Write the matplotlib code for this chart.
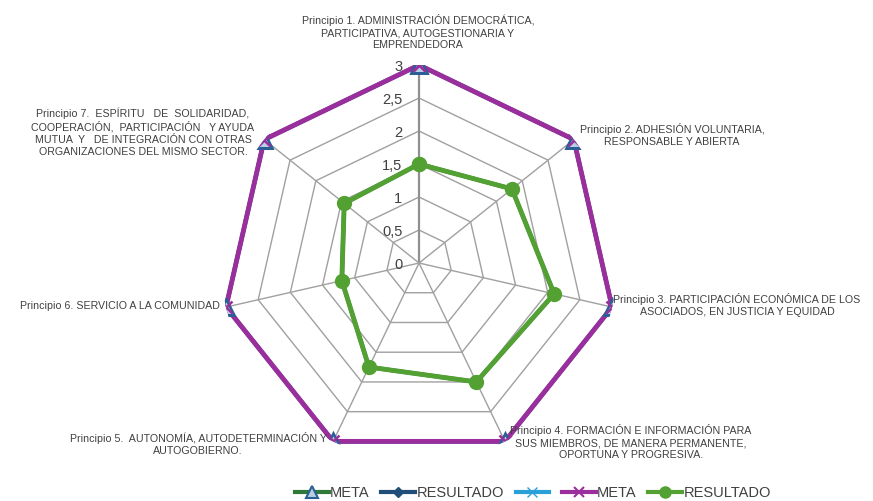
import numpy as np
import matplotlib.pyplot as plt
from matplotlib.lines import Line2D

# Principios cooperativos y valores evaluados
principios = [
    'Principio 1. ADMINISTRACIÓN DEMOCRÁTICA,\nPARTICIPATIVA, AUTOGESTIONARIA Y\nEMPRENDEDORA',
    'Principio 2. ADHESIÓN VOLUNTARIA,\nRESPONSABLE Y ABIERTA',
    'Principio 3. PARTICIPACIÓN ECONÓMICA DE LOS\nASOCIADOS, EN JUSTICIA Y EQUIDAD',
    'Principio 4. FORMACIÓN E INFORMACIÓN PARA\nSUS MIEMBROS, DE MANERA PERMANENTE,\nOPORTUNA Y PROGRESIVA.',
    'Principio 5.  AUTONOMÍA, AUTODETERMINACIÓN Y\nAUTOGOBIERNO.',
    'Principio 6. SERVICIO A LA COMUNIDAD',
    'Principio 7.  ESPÍRITU   DE  SOLIDARIDAD,\nCOOPERACIÓN,  PARTICIPACIÓN   Y AYUDA\nMUTUA  Y   DE INTEGRACIÓN CON OTRAS\nORGANIZACIONES DEL MISMO SECTOR.',
]
meta = [3, 3, 3, 3, 3, 3, 3]
resultado = [1.5, 1.8, 2.1, 2.0, 1.75, 1.2, 1.45]
niveles = [0, 0.5, 1, 1.5, 2, 2.5, 3]
etiquetas_niveles = ['0', '0,5', '1', '1,5', '2', '2,5', '3']

FONT = ['Liberation Sans Narrow', 'Liberation Sans', 'DejaVu Sans']
TXT = '#404040'
GRID = '#a0a0a0'


def cerrar(vals):
    return list(vals) + [vals[0]]


n = len(principios)
ang = np.linspace(0, 2 * np.pi, n, endpoint=False)
ang_c = cerrar(ang)

fig = plt.figure(figsize=(8.73, 5.01), dpi=100)
ax = fig.add_axes([0.2532, 0.0798, 0.4536, 0.7904], polar=True)
ax.set_theta_zero_location('N')
ax.set_theta_direction(-1)
ax.set_ylim(0, 3)
ax.set_xticks([])
ax.set_yticks([])
ax.grid(False)
ax.spines['polar'].set_visible(False)
ax.patch.set_visible(False)

# rejilla poligonal y radios
for r in niveles[1:]:
    ax.plot(ang_c, [r] * (n + 1), color=GRID, lw=1, zorder=1)
for i, a in enumerate(ang):
    ax.plot([a, a], [0, 3], color=GRID if i else '#909090', lw=1.6 if i == 0 else 1, zorder=1)

for r, t in zip(niveles, etiquetas_niveles):
    ax.annotate(t, xy=(0, r), xytext=(-12, -1.5), textcoords='offset points',
                ha='right', va='center', fontsize=10.5, color=TXT, family=FONT)

# series
ax.plot(ang_c, cerrar(meta), color='#2f7a3a', lw=3, zorder=2)
ax.plot(ang_c, cerrar(resultado), color='#1f4e79', lw=3, marker='D', ms=6, zorder=2)
ax.plot(ang_c, cerrar(meta), color='#2aa0d8', lw=3, marker='x', ms=7, zorder=2)
ax.plot(ang_c, cerrar(meta), color='#9a2e9c', lw=3.5, zorder=3)
# marcadores de la meta encima de la línea morada
ax.plot(ang_c, cerrar(meta), ls='none', marker='^', ms=11,
        mec='#2a5f95', mfc='#b9cde3', mew=1.8, zorder=3.5)
ax.plot(ang_c, cerrar(meta), ls='none', marker='x', ms=9, mew=1.8,
        color='#9a2e9c', zorder=3.6)
ax.plot(ang_c, cerrar(resultado), color='#52a132', lw=3.5, marker='o', ms=10, zorder=4)

# posiciones de las etiquetas de categorías (coordenadas de figura en px)
pos = [(418, 32), (672, 135), (737, 305), (631, 442), (198, 444), (120, 306), (143, 132)]
for txt, (x, y) in zip(principios, pos):
    fig.text(x / 873, 1 - y / 501, txt, ha='center', va='center', fontsize=7.7,
             color=TXT, family=FONT, linespacing=1.25)

handles = [
    Line2D([], [], color='#2f7a3a', lw=3, marker='^', ms=8, mec='#2a5f95', mfc='#b9cde3', mew=1.5),
    Line2D([], [], color='#1f4e79', lw=3, marker='D', ms=5),
    Line2D([], [], color='#2aa0d8', lw=3, marker='x', ms=7),
    Line2D([], [], color='#9a2e9c', lw=3, marker='x', ms=7, mew=1.5),
    Line2D([], [], color='#52a132', lw=3, marker='o', ms=8),
]
labels = ['META', 'RESULTADO', '', 'META', 'RESULTADO']
fig.legend(handles, labels, loc='center', bbox_to_anchor=(533 / 873, 1 - 493 / 501),
           ncol=5, frameon=False, handlelength=2.3, handletextpad=0.1, columnspacing=0.8,
           prop={'family': FONT, 'size': 10.5}, labelcolor=TXT)

fig.savefig('out.png', dpi=100, facecolor='white')
